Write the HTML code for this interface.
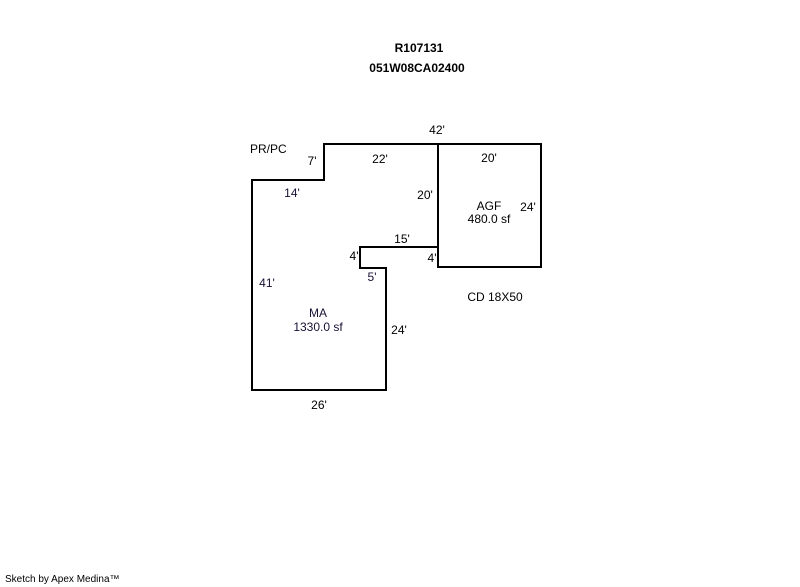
<!DOCTYPE html>
<html><head><style>
html,body{margin:0;padding:0;background:#fff;}
svg{display:block;}
text{font-family:"Liberation Sans",Arial,sans-serif;font-size:12px;fill:#000;}
</style></head><body>
<svg width="800" height="587" viewBox="0 0 800 587">
<text x="419" y="52" text-anchor="middle" font-weight="bold">R107131</text>
<text x="417" y="72" text-anchor="middle" font-weight="bold">051W08CA02400</text>
<g fill="none" stroke="#000" stroke-width="2">
<path d="M252 180 H324 V144 H438 V247 H360 V268 H386 V390 H252 Z"/>
<rect x="438" y="144" width="103" height="123"/>
</g>
<text x="250" y="153">PR/PC</text>
<text x="437" y="134" text-anchor="middle">42'</text>
<text x="312" y="165" text-anchor="middle">7'</text>
<text x="380" y="163" text-anchor="middle">22'</text>
<text x="489" y="162" text-anchor="middle">20'</text>
<text x="292" y="197" text-anchor="middle" style="fill:#1a1035">14'</text>
<text x="425" y="199" text-anchor="middle">20'</text>
<text x="489" y="210" text-anchor="middle">AGF</text>
<text x="489" y="223" text-anchor="middle">480.0 sf</text>
<text x="528" y="211" text-anchor="middle">24'</text>
<text x="402" y="243" text-anchor="middle">15'</text>
<text x="354" y="260" text-anchor="middle">4'</text>
<text x="432" y="262" text-anchor="middle">4'</text>
<text x="372" y="281" text-anchor="middle" style="fill:#1a1035">5'</text>
<text x="267" y="287" text-anchor="middle" style="fill:#1a1035">41'</text>
<text x="495" y="301" text-anchor="middle">CD 18X50</text>
<text x="318" y="317" text-anchor="middle" style="fill:#1a1035">MA</text>
<text x="318" y="331" text-anchor="middle" style="fill:#1a1035">1330.0 sf</text>
<text x="399" y="334" text-anchor="middle">24'</text>
<text x="319" y="409" text-anchor="middle">26'</text>
<text x="5" y="582" style="font-size:10px">Sketch by Apex Medina™</text>
</svg>
</body></html>
